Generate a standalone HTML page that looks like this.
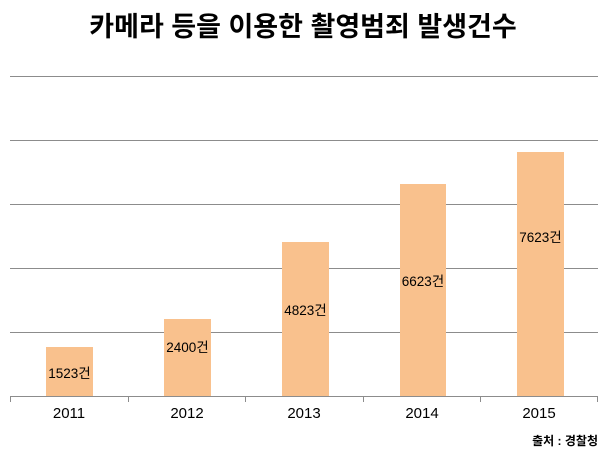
<!DOCTYPE html>
<html><head><meta charset="utf-8"><style>
html,body{margin:0;padding:0;background:#fff;}
svg{display:block;}
text{font-family:"Liberation Sans","Noto Sans CJK KR",sans-serif;}
</style></head><body>
<svg width="608" height="458" viewBox="0 0 608 458" xmlns="http://www.w3.org/2000/svg">
<text x="303" y="36" text-anchor="middle" font-size="27" font-weight="bold" fill="#000">카메라 등을 이용한 촬영범죄 발생건수</text>
<g stroke="#8c8c8c" stroke-width="1">
<line x1="10" y1="76.5" x2="598" y2="76.5"/>
<line x1="10" y1="140.5" x2="598" y2="140.5"/>
<line x1="10" y1="204.5" x2="598" y2="204.5"/>
<line x1="10" y1="268.5" x2="598" y2="268.5"/>
<line x1="10" y1="332.5" x2="598" y2="332.5"/>
</g>
<g fill="#f9c18d">
<rect x="46" y="347" width="47" height="49"/>
<rect x="164" y="319" width="47" height="77"/>
<rect x="282" y="242" width="47" height="154"/>
<rect x="400" y="184" width="46" height="212"/>
<rect x="517" y="152" width="47" height="244"/>
</g>
<g stroke="#8c8c8c" stroke-width="1">
<line x1="10" y1="396.5" x2="598" y2="396.5"/>
<line x1="10.5" y1="396" x2="10.5" y2="402"/>
<line x1="128.5" y1="396" x2="128.5" y2="402"/>
<line x1="245.5" y1="396" x2="245.5" y2="402"/>
<line x1="363.5" y1="396" x2="363.5" y2="402"/>
<line x1="480.5" y1="396" x2="480.5" y2="402"/>
<line x1="597.5" y1="396" x2="597.5" y2="402"/>
</g>
<g font-size="13.5" fill="#000" text-anchor="middle">
<text x="69.5" y="378">1523건</text>
<text x="187.5" y="352">2400건</text>
<text x="305.5" y="315">4823건</text>
<text x="423" y="286">6623건</text>
<text x="540.5" y="242">7623건</text>
</g>
<g font-size="15" fill="#000" text-anchor="middle">
<text x="69" y="418">2011</text>
<text x="187" y="418">2012</text>
<text x="304" y="418">2013</text>
<text x="422" y="418">2014</text>
<text x="539" y="418">2015</text>
</g>
<text x="598" y="445" text-anchor="end" font-size="12" font-weight="bold" fill="#000">출처 : 경찰청</text>
</svg>
</body></html>
